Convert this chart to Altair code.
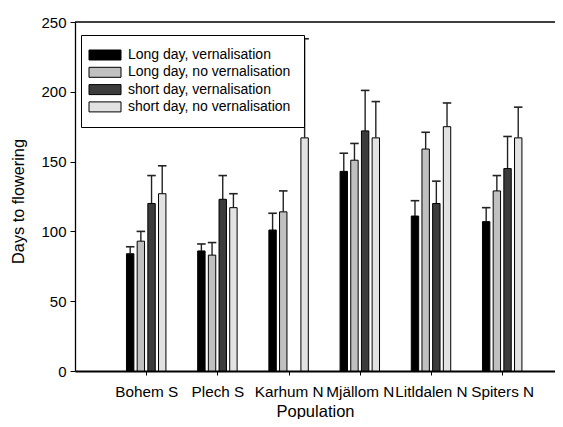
import json
import altair as alt
import pandas as pd

populations = ["Bohem S", "Plech S", "Karhum N", "Mjällom N", "Litldalen N", "Spiters N"]
series = [
    "Long day, vernalisation",
    "Long day, no vernalisation",
    "short day, vernalisation",
    "short day, no vernalisation",
]
colors = ["#000000", "#c0c0c0", "#3c3c3c", "#e2e2e2"]

ld_vern = [84, 86, 101, 143, 111, 107]
ld_vern_se = [5, 5, 12, 13, 11, 10]
ld_novern = [93, 83, 114, 151, 159, 129]
ld_novern_se = [7, 9, 15, 12, 12, 11]
sd_vern = [120, 123, None, 172, 120, 145]
sd_vern_se = [20, 17, None, 29, 16, 23]
sd_novern = [127, 117, 167, 167, 175, 167]
sd_novern_se = [20, 10, 71, 26, 17, 22]

means = [ld_vern, ld_novern, sd_vern, sd_novern]
ses = [ld_vern_se, ld_novern_se, sd_vern_se, sd_novern_se]

rows = []
for si, (s, m, e) in enumerate(zip(series, means, ses)):
    for pi, (p, v, err) in enumerate(zip(populations, m, e)):
        if v is None:
            continue
        rows.append({"population": p, "series": s, "pi": pi + 1, "si": si,
                     "mean": v, "se": err})
df = pd.DataFrame(rows)

W, H = 480, 349
xmax = W / 71.2

base = alt.Chart(df).transform_calculate(
    xc="datum.pi + (datum.si - 1.5) * 0.15",
    x0="datum.pi + (datum.si - 1.5) * 0.15 - 0.052",
    x1="datum.pi + (datum.si - 1.5) * 0.15 + 0.052",
    c0="datum.pi + (datum.si - 1.5) * 0.15 - 0.06",
    c1="datum.pi + (datum.si - 1.5) * 0.15 + 0.06",
    top="datum.mean + datum.se",
)

xscale = alt.Scale(domain=[0, xmax], nice=False, zero=False)
yscale = alt.Scale(domain=[0, 250], nice=False)

labels_js = json.dumps(populations, ensure_ascii=False)

xaxis = alt.Axis(
    values=[1, 2, 3, 4, 5, 6],
    labelExpr=f"{labels_js}[datum.value - 1]",
    title="Population",
    grid=False,
    tickSize=4,
    labelPadding=21,
    labelBaseline="alphabetic",
    labelFontSize=15.3,
    titleFontSize=16.5,
    titleFontWeight="normal",
    titleY=45,
    titleBaseline="alphabetic",
    domainWidth=2,
    labelFlush=False,
    labelOverlap=False,
)
yaxis = alt.Axis(
    values=[0, 50, 100, 150, 200, 250],
    title="Days to flowering",
    grid=False,
    tickSize=5,
    labelPadding=4,
    labelFontSize=15,
    titleFontSize=16.3,
    titleFontWeight="normal",
    titleX=-52,
    titleY=179,
    titleBaseline="alphabetic",
    titleAlign="center",
    domainWidth=1.3,
)

bars = base.mark_rect(stroke="black", strokeWidth=1).encode(
    x=alt.X("x0:Q", scale=xscale, axis=xaxis),
    x2="x1:Q",
    y=alt.Y("mean:Q", scale=yscale, axis=yaxis),
    y2=alt.datum(0),
    fill=alt.Fill(
        "series:N",
        scale=alt.Scale(domain=series, range=colors),
        legend=alt.Legend(
            title=None,
            orient="none",
            legendX=6,
            legendY=13,
            padding=13,
            strokeColor="black",
            fillColor="white",
            labelFontSize=14,
            labelOffset=16,
            labelLimit=400,
            rowPadding=3.3,
            symbolType="M-3.2,-1H3.2V1H-3.2Z",
            symbolSize=100,
            symbolOffset=4,
            symbolStrokeColor="black",
            symbolStrokeWidth=1,
            symbolOpacity=1,
            labelColor="black",
        ),
    ),
)

whisk = base.mark_rule(color="#222222", strokeWidth=1.4).encode(
    x="xc:Q", y="mean:Q", y2="top:Q"
)
caps = base.mark_rule(color="#222222", strokeWidth=1.6).encode(
    x="c0:Q", x2="c1:Q", y="top:Q"
)

topline = alt.Chart(pd.DataFrame({"v": [250]})).mark_rule(
    color="black", strokeWidth=1.5
).encode(y=alt.Y("v:Q", scale=yscale))

chart = alt.layer(whisk, caps, bars, topline).properties(
    width=W,
    height=H,
    autosize=alt.AutoSizeParams(type="none"),
    padding={"left": 67, "top": 14, "right": 0, "bottom": 48},
).configure_view(stroke=None).configure_axis(
    labelFont="Liberation Sans",
    titleFont="Liberation Sans",
    labelColor="black",
    titleColor="black",
    domainColor="black",
    tickColor="black",
).configure_legend(
    labelFont="Liberation Sans",
)

chart.save("out.html", embed_options={"renderer": "svg", "actions": False})
